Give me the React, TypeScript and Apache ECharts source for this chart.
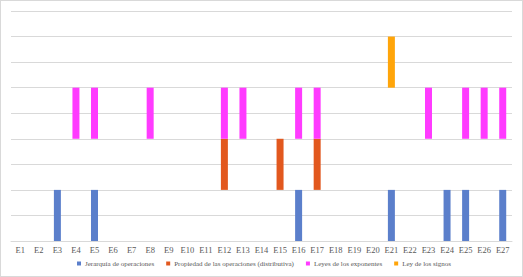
import React, { useEffect, useRef } from "react";
import * as echarts from "echarts";

const categories = Array.from({ length: 27 }, (_, i) => `E${i + 1}`);
// 1 = present, 0 = absent
const jerarquia = [0,0,1,0,1,0,0,0,0,0,0,0,0,0,0,1,0,0,0,0,1,0,0,1,1,0,1];
const propiedad = [0,0,0,0,0,0,0,0,0,0,0,1,0,0,1,0,1,0,0,0,0,0,0,0,0,0,0];
const leyes =     [0,0,0,1,1,0,0,1,0,0,0,1,1,0,0,1,1,0,0,0,0,0,1,0,1,1,1];
const signos =    [0,0,0,0,0,0,0,0,0,0,0,0,0,0,0,0,0,0,0,0,1,0,0,0,0,0,0];
const seriesNames = [
  "Jerarquía de operaciones",
  "Propiedad de las operaciones (distributiva)",
  "Leyes de los exponentes",
  "Ley de los signos",
];
const colors = ["#5B7FCB", "#E2581E", "#FF3BFF", "#FFA50A"];
const levelHeight = 2;

export default function App() {
  const ref = useRef<HTMLDivElement>(null);
  useEffect(() => {
    if (!ref.current) return;
    const chart = echarts.init(ref.current, null, { renderer: "svg" });
    const all = [jerarquia, propiedad, leyes, signos];
    const series: any[] = [];
    all.forEach((arr, k) => {
      const stack = "s" + k;
      if (k > 0) {
        series.push({
          name: "base" + k,
          type: "bar",
          stack,
          barWidth: 7,
          barGap: "-100%",
          silent: true,
          itemStyle: { color: "transparent" },
          data: arr.map((v) => (v ? k * levelHeight : 0)),
        });
      }
      series.push({
        name: seriesNames[k],
        type: "bar",
        stack,
        barWidth: 7,
        barGap: "-100%",
        itemStyle: { color: colors[k] },
        data: arr.map((v) => v * levelHeight),
      });
    });
    chart.setOption({
      animation: false,
      grid: { left: 10, right: 10, top: 10, bottom: 35, containLabel: false },
      legend: {
        data: seriesNames.map((n, i) => ({ name: n, itemStyle: { color: colors[i] } })),
        bottom: 4,
        left: 71,
        itemWidth: 4,
        itemHeight: 4,
        itemGap: 12,
        icon: "rect",
        textStyle: { fontFamily: "Liberation Serif", fontSize: 7, color: "#595959", padding: [0, 0, 0, -1] },
      },
      xAxis: {
        type: "category",
        data: categories,
        axisLine: { show: true, lineStyle: { color: "#d9d9d9" } },
        axisTick: { show: false },
        axisLabel: {
          fontFamily: "Liberation Serif",
          fontSize: 8.5,
          color: "#595959",
          interval: 0,
          margin: 4,
        },
      },
      yAxis: {
        type: "value",
        min: 0,
        max: 9,
        interval: 1,
        axisLabel: { show: false },
        axisLine: { show: false },
        axisTick: { show: false },
        splitLine: { lineStyle: { color: "#d9d9d9" } },
      },
      series,
    });
    return () => chart.dispose();
  }, []);
  return (
    <div
      ref={ref}
      style={{
        position: "fixed",
        left: 0,
        top: 0,
        width: 523,
        height: 277,
        boxSizing: "border-box",
        border: "1px solid #d9d9d9",
        background: "#fff",
      }}
    />
  );
}
